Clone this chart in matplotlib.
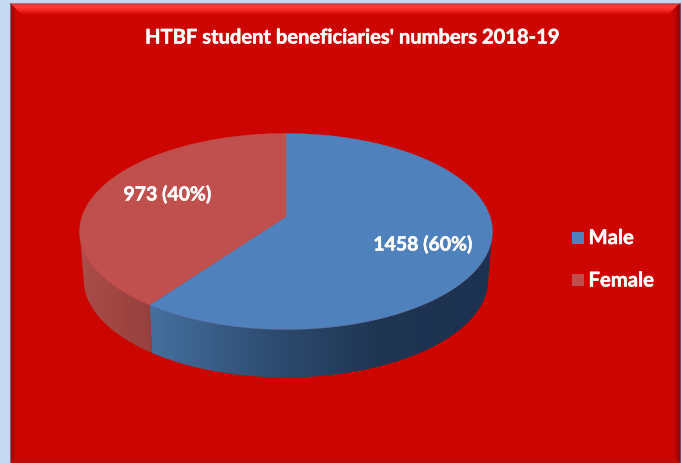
import numpy as np
import matplotlib
matplotlib.use("Agg")
import matplotlib.pyplot as plt
import matplotlib.patheffects as pe
from matplotlib.colors import LinearSegmentedColormap
from matplotlib.patches import Polygon

# chart data
categories = ["Male", "Female"]
counts = [1458, 973]
title = "HTBF student beneficiaries' numbers 2018-19"

W, H = 681, 464
plt.rcParams["font.family"] = ["Lato", "DejaVu Sans"]
plt.rcParams["font.weight"] = "bold"

fig = plt.figure(figsize=(W / 100, H / 100), dpi=100, facecolor="#c6d9f1")
ax = fig.add_axes([0, 0, 1, 1])
ax.set_xlim(0, W)
ax.set_ylim(H, 0)
ax.axis("off")

top_col = {"Male": "#4f81bd", "Female": "#c0504d"}
side_cols = {"Male": ["#46709f", "#2f4e74", "#1f3552", "#1d3250"], "Female": ["#ab4d4a", "#96403d"]}
heavier = [pe.withStroke(linewidth=0.35, foreground="white")]

# pie geometry, a tilted circle with some perspective
cx, cy = 286, 217.5
a, b, k = 204, 95.7, 0.153
depth, shrink = 48, 0.98


def rim(theta, lower=False):
    # theta runs clockwise from 12 o'clock
    u, v = np.sin(theta), np.cos(theta)
    w = 1 + k * v
    x = cx + a * u / w
    y = cy - b * v / w
    if lower:
        x = cx + (x - cx) * shrink
        y = y + depth
    return x, y


def grad(x0, x1, y0, y1, colors, clip, horizontal=True, z=2):
    cmap = LinearSegmentedColormap.from_list("g", colors)
    g = np.linspace(0, 1, 256)
    g = g.reshape(1, -1) if horizontal else g.reshape(-1, 1)
    im = ax.imshow(g, extent=[x0, x1, y1, y0], cmap=cmap, aspect="auto", zorder=z,
                   interpolation="bilinear")
    patch = Polygon(clip, closed=True, transform=ax.transData, fc="none", ec="none")
    ax.add_patch(patch)
    im.set_clip_path(patch)


# frame and bevels
fl, ft, fr, fb = 10, 4, 680, 464
red = "#cc0500"
ax.add_patch(Polygon([(fl, ft), (fr, ft), (fr, fb), (fl, fb)], fc=red, ec="none", zorder=1))
grad(fl, fr, ft, ft + 12, ["#d8333a", "#ff3b3b", "#f02020", red],
     [(fl, ft), (fr, ft), (fr - 12, ft + 12), (fl + 12, ft + 12)], horizontal=False)
grad(fl, fl + 6, ft, fb, ["#8a0f10", "#b00604", red],
     [(fl, ft), (fl + 6, ft + 6), (fl + 6, fb), (fl, fb)])
grad(fr - 7, fr, ft, fb, [red, "#b30402", "#8c0201"],
     [(fr, ft), (fr - 7, ft + 7), (fr - 7, fb), (fr, fb)])
grad(fl, fr, fb - 6, fb, [red, "#b5120f"],
     [(fl + 6, fb - 6), (fr - 6, fb - 6), (fr, fb), (fl, fb)], horizontal=False)
ax.plot([fr, fr], [ft, fb], color="#7a4a60", lw=1, zorder=3)
ax.plot([fl, fr], [ft, ft], color="#b0707a", lw=0.8, zorder=3)
ax.plot([fl, fl], [ft, fb], color="#8a6a78", lw=0.8, zorder=3)

# wedges, from the counts
total = sum(counts)
start = 0.0
label_pos = {"Male": (423, 245.5), "Female": (167.5, 195.5)}
# the wall shows between the two widest points of the rim
wall_from = np.arccos(-k)
wall_to = 2 * np.pi - wall_from
for name, n in zip(categories, counts):
    end = start + 2 * np.pi * n / total
    t = np.linspace(start, end, 300)
    x, y = rim(t)
    ts = np.linspace(max(start, wall_from), min(end, wall_to), 200)
    xu, yu = rim(ts)
    xl, yl = rim(ts, lower=True)
    pts = list(zip(xu, yu)) + list(zip(xl[::-1], yl[::-1]))
    x0, x1 = min(xu.min(), xl.min()), max(xu.max(), xl.max())
    grad(x0, x1, yu.min(), yl.max(), side_cols[name], pts, z=2)
    verts = [(cx, cy)] + list(zip(x, y))
    ax.add_patch(Polygon(verts, closed=True, fc=top_col[name], ec=top_col[name], lw=0.3, zorder=3))
    lx, ly = label_pos[name]
    ax.text(lx, ly, f"{n} ({round(100 * n / total)}%)", color="white", fontsize=14,
            ha="center", va="center", zorder=5, path_effects=heavier)
    start = end

# title
ax.text(352, 38.5, title, color="white", fontsize=14.5, ha="center", va="center", zorder=5,
        path_effects=heavier)

# legend
for name, ly in zip(categories, [238.5, 281]):
    ax.add_patch(Polygon([(572, ly - 6), (584, ly - 6), (584, ly + 6), (572, ly + 6)],
                         fc=top_col[name], ec="none", zorder=5))
    ax.text(588.5, ly + 0.5, name, color="white", fontsize=14.6, ha="left", va="center", zorder=5,
            path_effects=heavier)

ax.set_xlim(0, W)
ax.set_ylim(H, 0)
fig.savefig("out.png", dpi=100, facecolor=fig.get_facecolor())
